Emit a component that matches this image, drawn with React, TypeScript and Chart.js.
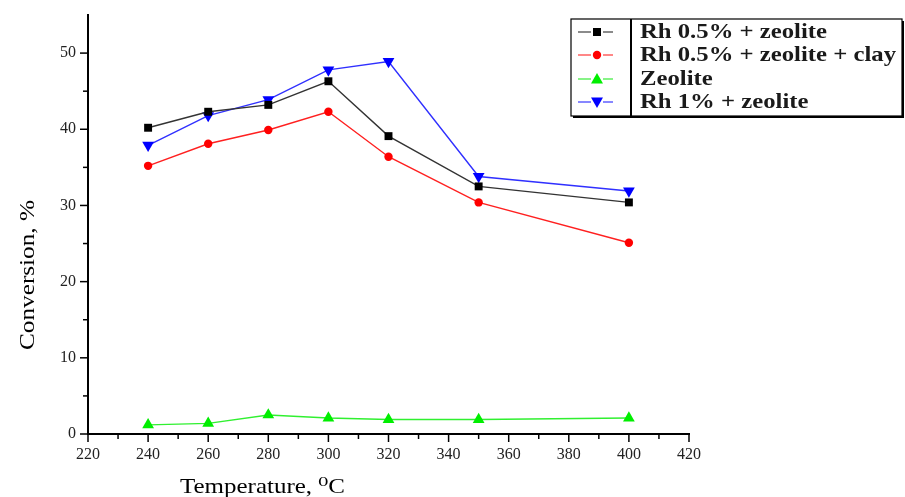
import React, { useEffect, useRef } from "react";
import { Chart, registerables } from "chart.js";

Chart.register(...registerables);

const temperatures = [240, 260, 280, 300, 320, 350, 400];
const rh05Zeolite = [40.2, 42.3, 43.2, 46.3, 39.1, 32.5, 30.4];
const rh05ZeoliteClay = [35.2, 38.1, 39.9, 42.3, 36.4, 30.4, 25.1];
const zeolite = [1.2, 1.4, 2.5, 2.1, 1.9, 1.9, 2.1];
const rh1Zeolite = [37.9, 41.8, 43.9, 47.8, 48.9, 33.8, 31.9];

const seriesNames = [
  "Rh 0.5% + zeolite",
  "Rh 0.5% + zeolite + clay",
  "Zeolite",
  "Rh 1% + zeolite",
];
const xTickLabels = [220, 240, 260, 280, 300, 320, 340, 360, 380, 400, 420];
const yTickLabels = [0, 10, 20, 30, 40, 50];
const xTitle = "Temperature, \u2070C";
const yTitle = "Conversion, %";

const SERIF = "'Liberation Serif', 'DejaVu Serif', serif";

type Marker = "square" | "circle" | "up" | "down";
const markers: Marker[] = ["square", "circle", "up", "down"];
const lineColors = ["#333333", "#ff2020", "#30f030", "#3030ff"];
const legendLineColors = ["#666666", "#ff6060", "#60f060", "#6060ff"];
const pointColors = ["#000000", "#ff0000", "#00ee00", "#0000ff"];

function drawMarker(ctx: CanvasRenderingContext2D, m: Marker, x: number, y: number, color: string) {
  ctx.save();
  ctx.fillStyle = color;
  ctx.beginPath();
  if (m === "square") {
    ctx.rect(x - 4, y - 4, 8, 8);
  } else if (m === "circle") {
    ctx.arc(x, y, 4.2, 0, Math.PI * 2);
  } else if (m === "up") {
    ctx.moveTo(x, y - 6);
    ctx.lineTo(x + 6, y + 4.5);
    ctx.lineTo(x - 6, y + 4.5);
    ctx.closePath();
  } else {
    ctx.moveTo(x, y + 6);
    ctx.lineTo(x + 6, y - 4.5);
    ctx.lineTo(x - 6, y - 4.5);
    ctx.closePath();
  }
  ctx.fill();
  ctx.restore();
}

// draw text stretched in its own reading direction by factor sx
function stretchedText(ctx: CanvasRenderingContext2D, text: string, x: number, y: number, sx: number) {
  ctx.save();
  ctx.translate(x, y);
  ctx.scale(sx, 1);
  ctx.fillText(text, 0, 0);
  ctx.restore();
}

const decorPlugin = {
  id: "decor",
  afterDraw(chart: any) {
    const ctx: CanvasRenderingContext2D = chart.ctx;
    const xs = chart.scales.x;
    const ys = chart.scales.y;
    const area = chart.chartArea;
    ctx.save();
    ctx.strokeStyle = "#000";
    ctx.lineWidth = 1.5;
    for (let v = 0; v <= 50; v += 5) {
      const py = ys.getPixelForValue(v);
      const len = v % 10 === 0 ? 8 : 5;
      ctx.beginPath();
      ctx.moveTo(area.left, py);
      ctx.lineTo(area.left - len, py);
      ctx.stroke();
    }
    for (let v = xs.min; v <= xs.max; v += 10) {
      const px = xs.getPixelForValue(v);
      const len = (v - xs.min) % 20 === 0 ? 8 : 5;
      ctx.beginPath();
      ctx.moveTo(px, area.bottom);
      ctx.lineTo(px, area.bottom + len);
      ctx.stroke();
    }
    ctx.fillStyle = "#000";
    ctx.textBaseline = "alphabetic";
    ctx.textAlign = "left";
    ctx.font = `22px ${SERIF}`;
    {
      const w = ctx.measureText(xTitle).width;
      stretchedText(ctx, xTitle, 180, 493, 165 / w);
    }
    ctx.save();
    ctx.translate(34, 350);
    ctx.rotate(-Math.PI / 2);
    ctx.font = `22px ${SERIF}`;
    {
      const w = ctx.measureText(yTitle).width;
      stretchedText(ctx, yTitle, 0, 0, 150 / w);
    }
    ctx.restore();

    // legend
    const bx = 571, by = 19, bw = 331, bh = 97;
    ctx.fillStyle = "#000";
    ctx.fillRect(bx + 2, by + 2, bw, bh);
    ctx.fillStyle = "#fff";
    ctx.fillRect(bx, by, bw, bh);
    ctx.strokeStyle = "#000";
    ctx.lineWidth = 1.2;
    ctx.strokeRect(bx, by, bw, bh);
    ctx.lineWidth = 2;
    ctx.beginPath();
    ctx.moveTo(631, by);
    ctx.lineTo(631, by + bh);
    ctx.stroke();
    const rows = [32, 55, 79, 102];
    ctx.font = `bold 21px ${SERIF}`;
    ctx.textBaseline = "middle";
    ctx.textAlign = "left";
    const longest = ctx.measureText(seriesNames[1]).width;
    const sx = 256 / longest;
    seriesNames.forEach((name, i) => {
      const ry = rows[i];
      ctx.strokeStyle = legendLineColors[i];
      ctx.lineWidth = 1.5;
      ctx.beginPath();
      ctx.moveTo(578, ry);
      ctx.lineTo(591, ry);
      ctx.moveTo(603, ry);
      ctx.lineTo(613, ry);
      ctx.stroke();
      drawMarker(ctx, markers[i], 597, ry, pointColors[i]);
      ctx.fillStyle = "#1a1a1a";
      stretchedText(ctx, name, 640, ry + 1, sx);
    });
    ctx.restore();
  },
};

export default function App() {
  const ref = useRef<HTMLCanvasElement>(null);
  useEffect(() => {
    if (!ref.current) return;
    const all = [rh05Zeolite, rh05ZeoliteClay, zeolite, rh1Zeolite];
    const styles: any[] = [
      { pointStyle: "rect", pointRadius: 5.6, rotation: 0 },
      { pointStyle: "circle", pointRadius: 4.2, rotation: 0 },
      { pointStyle: "triangle", pointRadius: 6.8, rotation: 0 },
      { pointStyle: "triangle", pointRadius: 6.8, rotation: 180 },
    ];
    const chart = new Chart(ref.current, {
      type: "line",
      data: {
        datasets: all.map((vals, i) => ({
          label: seriesNames[i],
          data: temperatures.map((t, j) => ({ x: t, y: vals[j] })),
          borderColor: lineColors[i],
          borderWidth: 1.4,
          backgroundColor: pointColors[i],
          pointBackgroundColor: pointColors[i],
          pointBorderColor: pointColors[i],
          pointBorderWidth: 0,
          pointStyle: styles[i].pointStyle,
          pointRadius: styles[i].pointRadius,
          pointRotation: styles[i].rotation,
          tension: 0,
          fill: false,
        })),
      },
      plugins: [decorPlugin],
      options: {
        animation: false,
        responsive: true,
        maintainAspectRatio: false,
        layout: { padding: { top: 15, right: 216, left: 0, bottom: 0 } },
        plugins: { legend: { display: false }, tooltip: { enabled: false } },
        scales: {
          x: {
            type: "linear",
            min: 220,
            max: 420,
            afterFit: (s: any) => { s.height = 63; },
            afterBuildTicks: (s: any) => { s.ticks = xTickLabels.map((v) => ({ value: v })); },
            ticks: {
              color: "#222",
              font: { family: SERIF, size: 16 },
              padding: 3,
              maxRotation: 0,
              autoSkip: false,
            },
            grid: { drawOnChartArea: false, color: "rgba(0,0,0,0)", tickLength: 8 },
            border: { display: true, color: "#000", width: 2 },
          },
          y: {
            type: "linear",
            min: 0,
            max: 55,
            afterFit: (s: any) => { s.width = 88; },
            afterBuildTicks: (s: any) => { s.ticks = yTickLabels.map((v) => ({ value: v })); },
            ticks: {
              color: "#222",
              font: { family: SERIF, size: 16 },
              padding: 4,
              autoSkip: false,
            },
            grid: { drawOnChartArea: false, color: "rgba(0,0,0,0)", tickLength: 8 },
            border: { display: true, color: "#000", width: 2 },
          },
        },
      },
    });
    return () => chart.destroy();
  }, []);
  return (
    <div style={{ position: "fixed", left: 0, top: 0, width: 905, height: 497, background: "#fff" }}>
      <canvas ref={ref} />
    </div>
  );
}
